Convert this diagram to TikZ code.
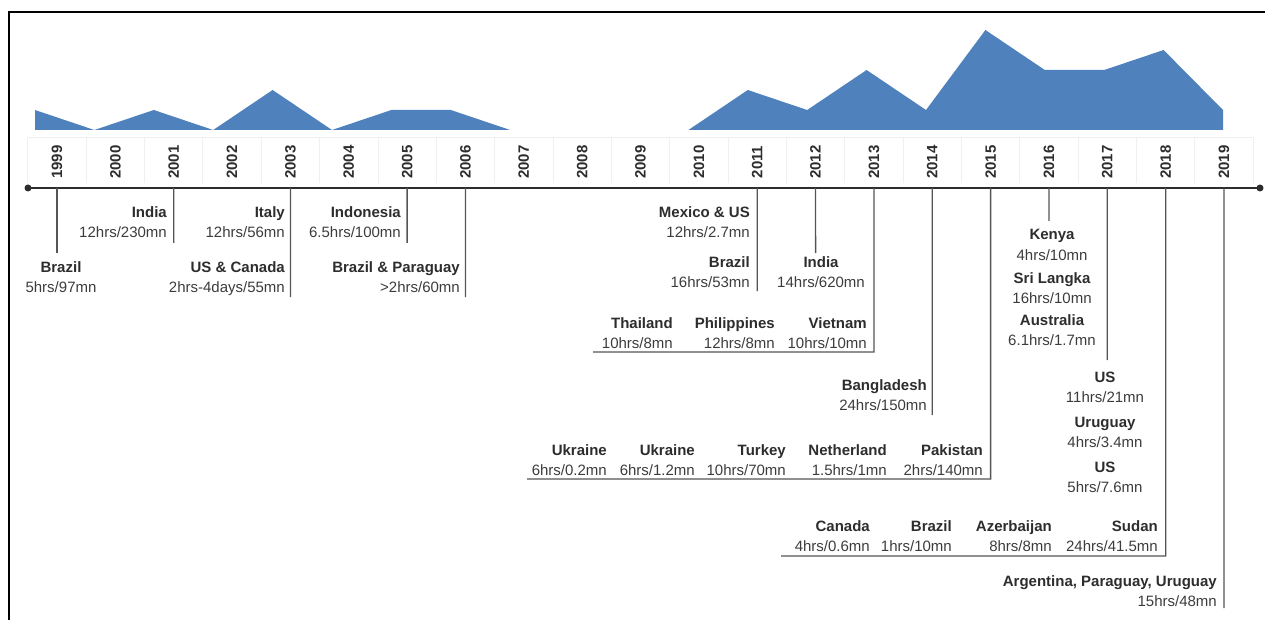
\documentclass[tikz,border=0pt]{standalone}
\usepackage{fontspec}
\setmainfont{Liberation Sans}
\usetikzlibrary{calc}
\definecolor{areablue}{RGB}{79,129,189}
\definecolor{txtdark}{RGB}{45,45,45}
\definecolor{txtmid}{RGB}{60,60,60}
\definecolor{linegray}{RGB}{85,85,85}
\newcommand\ent[5]{%
  \node[nm,anchor=#2] (#1n) at (#3) {#4};
  \node[mt,anchor=#2] (#1m) at ($(#1n.#2)+(0,20)$) {#5};
}
\begin{document}
\begin{tikzpicture}[x=1pt,y=-1pt,
  nm/.style={inner sep=0pt,font=\fontsize{15}{18}\selectfont\bfseries,text=txtdark},
  mt/.style={inner sep=0pt,font=\fontsize{15}{18}\selectfont,text=txtmid},
  yr/.style={inner sep=0pt,rotate=90,font=\fontsize{15}{18}\selectfont\bfseries,text=txtdark},
  drop/.style={draw=linegray,line width=1.3pt},
  axisline/.style={draw=txtdark,line width=1.5pt},
  band/.style={draw=black!6,line width=0.8pt},
  area/.style={fill=areablue,draw=none}]
\useasboundingbox (0,0) rectangle (1265,620);
% frame
\draw[line width=2pt,black] (9,620) -- (9,12) -- (1265,12);
% area chart
\path[area] (35,130) -- (35,110) -- (94.4,130) -- (153.8,110) -- (213.2,130) -- (272.6,90) -- (332,130) -- (391.4,110) -- (450.8,110) -- (510.2,130) -- cycle;
\path[area] (688.4,130) -- (747.8,90) -- (807.2,110) -- (866.6,70) -- (926,110) -- (985.4,30) -- (1044.8,70) -- (1104.2,70) -- (1163.6,50) -- (1223,110) -- (1223,130) -- cycle;
% year band
\draw[band] (28,137) -- (1253,137);
\foreach \i in {0,...,21} {
  \draw[band] ({57+58.35*(\i-0.5)},137) -- ({57+58.35*(\i-0.5)},183);
}
\foreach \i in {0,...,20} {
  \pgfmathtruncatemacro\yy{1999+\i}
  \node[yr] (yl\yy) at ({57+58.35*\i},162) {\yy};
  \coordinate (a\yy) at ({57+58.35*\i},188);
}
% axis
\coordinate (axL) at (28,188);
\coordinate (axR) at (1260,188);
\draw[axisline] (axL) -- (axR);
\fill[txtdark] (axL) circle (3.5);
\fill[txtdark] (axR) circle (3.5);
% drop ends
\coordinate (e1999) at (57,253);
\coordinate (e2001) at (173.7,243);
\coordinate (e2003) at (290.4,297);
\coordinate (e2005) at (407.1,243);
\coordinate (e2006) at (465.5,297);
\coordinate (e2011) at (757.2,291);
\coordinate (e2012) at (815.6,253);
\coordinate (e2013) at (873.9,352);
\coordinate (h2013) at (593,352);
\coordinate (e2014) at (932.3,415);
\coordinate (e2015) at (990.6,479);
\coordinate (h2015) at (527,479);
\coordinate (e2016) at (1049,221);
\coordinate (e2017) at (1107.3,360);
\coordinate (e2018) at (1165.7,556);
\coordinate (h2018) at (781,556);
\coordinate (e2019) at (1224,608);
\foreach \y in {1999,2001,2003,2005,2006,2011,2012,2014,2016,2017,2019} {
  \draw[drop] (a\y) -- (e\y);
}
\draw[drop] (a2013) -- (e2013) -- (h2013);
\draw[drop] (a2015) -- (e2015) -- (h2015);
\draw[drop] (a2018) -- (e2018) -- (h2018);
% labels
\ent{b99}{base}{61,272}{Brazil}{5hrs/97mn}
\ent{i01}{base east}{167,218}{India}{12hrs/230mn}
\ent{it03}{base east}{285,218}{Italy}{12hrs/56mn}
\ent{us03}{base east}{285,272}{US \& Canada}{2hrs-4days/55mn}
\ent{id05}{base east}{401,218}{Indonesia}{6.5hrs/100mn}
\ent{bp06}{base east}{460,272}{Brazil \& Paraguay}{>2hrs/60mn}
\ent{mu11}{base east}{750,218}{Mexico \& US}{12hrs/2.7mn}
\ent{br11}{base east}{750,267}{Brazil}{16hrs/53mn}
\ent{in12}{base}{821,267}{India}{14hrs/620mn}
\ent{th13}{base east}{673,328}{Thailand}{10hrs/8mn}
\ent{ph13}{base east}{775,328}{Philippines}{12hrs/8mn}
\ent{vn13}{base east}{867,328}{Vietnam}{10hrs/10mn}
\ent{bd14}{base east}{927,390}{Bangladesh}{24hrs/150mn}
\ent{ua15}{base east}{607,455}{Ukraine}{6hrs/0.2mn}
\ent{ub15}{base east}{695,455}{Ukraine}{6hrs/1.2mn}
\ent{tr15}{base east}{786,455}{Turkey}{10hrs/70mn}
\ent{nl15}{base east}{887,455}{Netherland}{1.5hrs/1mn}
\ent{pk15}{base east}{983,455}{Pakistan}{2hrs/140mn}
\ent{ke16}{base}{1052,240}{Kenya}{4hrs/10mn}
\ent{sl16}{base}{1052,283}{Sri Langka}{16hrs/10mn}
\ent{au16}{base}{1052,325}{Australia}{6.1hrs/1.7mn}
\ent{us17}{base}{1105,382}{US}{11hrs/21mn}
\ent{uy17}{base}{1105,427}{Uruguay}{4hrs/3.4mn}
\ent{ut17}{base}{1105,472}{US}{5hrs/7.6mn}
\ent{ca18}{base east}{870,531}{Canada}{4hrs/0.6mn}
\ent{br18}{base east}{952,531}{Brazil}{1hrs/10mn}
\ent{az18}{base east}{1052,531}{Azerbaijan}{8hrs/8mn}
\ent{sd18}{base east}{1158,531}{Sudan}{24hrs/41.5mn}
\ent{ap19}{base east}{1217,586}{Argentina, Paraguay, Uruguay}{15hrs/48mn}
\end{tikzpicture}
\end{document}
